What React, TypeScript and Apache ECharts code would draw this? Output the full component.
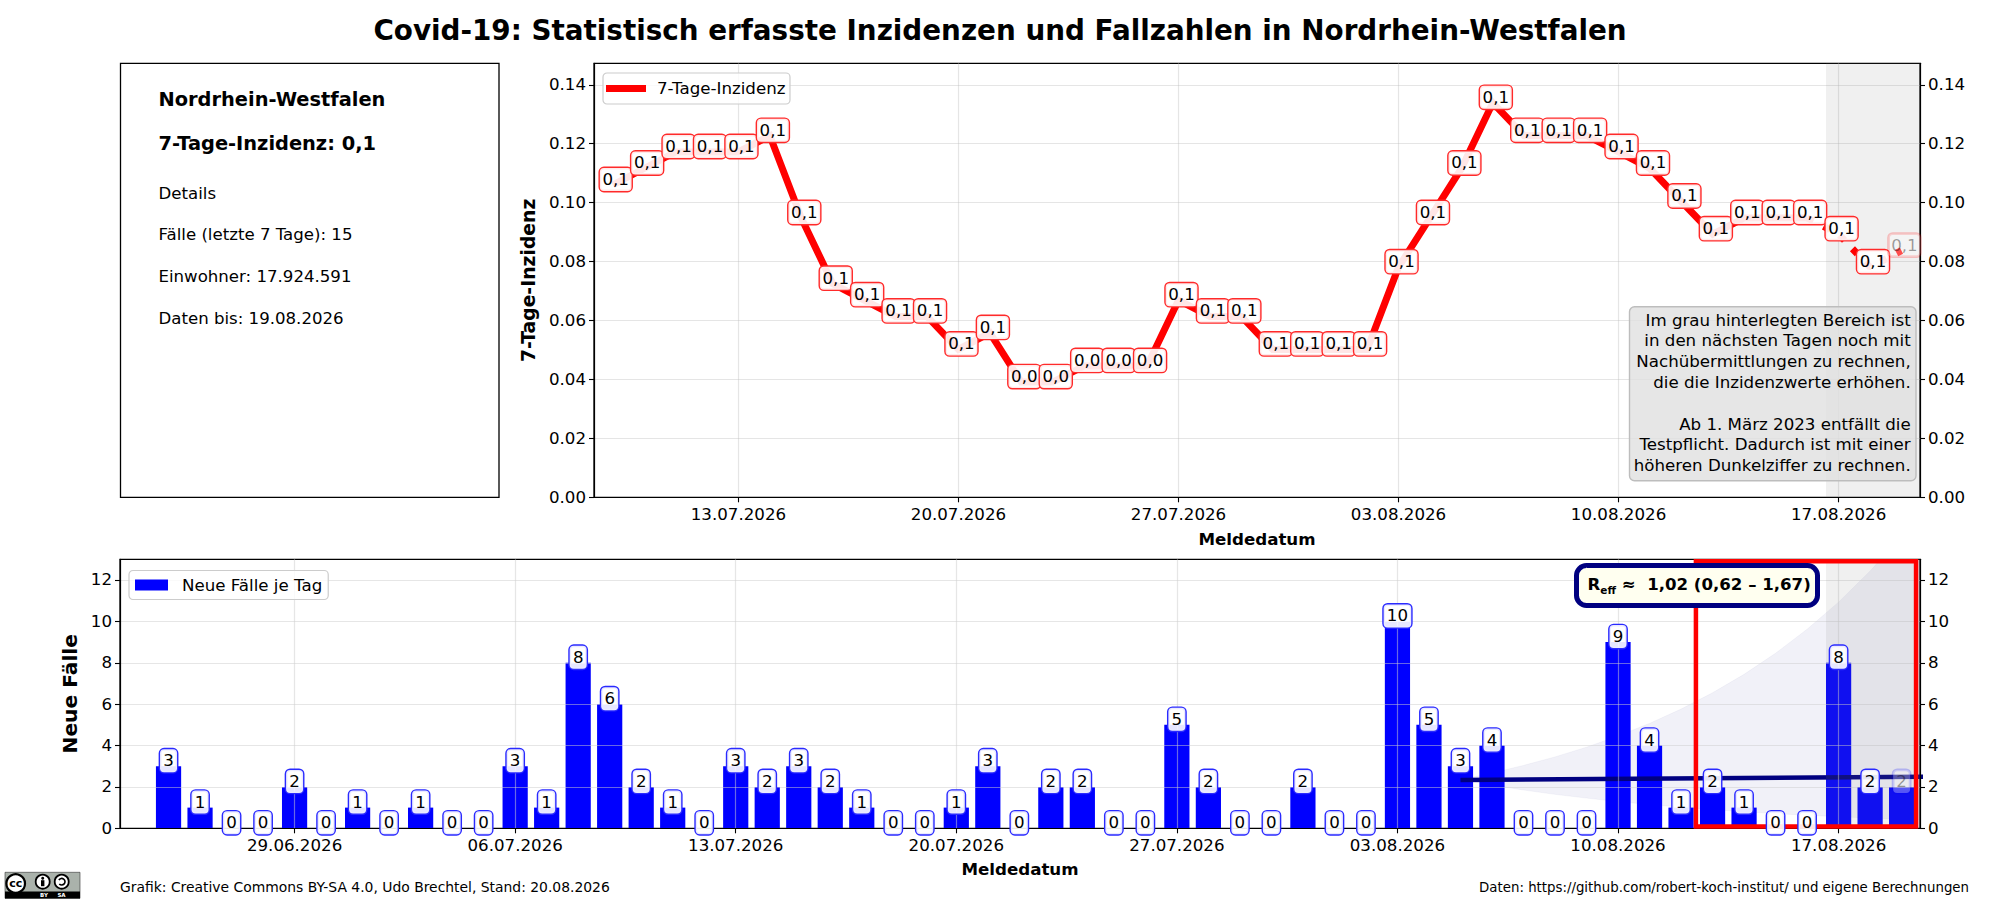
import React, { useEffect, useRef } from "react";
import * as echarts from "echarts";

const FONT = "DejaVu Sans";

const titleText = "Covid-19: Statistisch erfasste Inzidenzen und Fallzahlen in Nordrhein-Westfalen";
const incidenceName = "7-Tage-Inzidenz";
const casesName = "Neue Fälle je Tag";

const caseDates = [
  "2026-06-25","2026-06-26","2026-06-27","2026-06-28","2026-06-29","2026-06-30",
  "2026-07-01","2026-07-02","2026-07-03","2026-07-04","2026-07-05","2026-07-06","2026-07-07","2026-07-08","2026-07-09","2026-07-10",
  "2026-07-11","2026-07-12","2026-07-13","2026-07-14","2026-07-15","2026-07-16","2026-07-17","2026-07-18","2026-07-19","2026-07-20",
  "2026-07-21","2026-07-22","2026-07-23","2026-07-24","2026-07-25","2026-07-26","2026-07-27","2026-07-28","2026-07-29","2026-07-30","2026-07-31",
  "2026-08-01","2026-08-02","2026-08-03","2026-08-04","2026-08-05","2026-08-06","2026-08-07","2026-08-08","2026-08-09","2026-08-10",
  "2026-08-11","2026-08-12","2026-08-13","2026-08-14","2026-08-15","2026-08-16","2026-08-17","2026-08-18","2026-08-19",
];
const caseValues = [
  3,1,0,0,2,0,
  1,0,1,0,0,3,1,8,6,2,
  1,0,3,2,3,2,1,0,0,1,
  3,0,2,2,0,0,5,2,0,0,2,
  0,0,10,5,3,4,0,0,0,9,
  4,1,2,1,0,0,8,2,2,
];

const incidenceDates = [
  "2026-07-09","2026-07-10",
  "2026-07-11","2026-07-12","2026-07-13","2026-07-14","2026-07-15","2026-07-16","2026-07-17","2026-07-18","2026-07-19","2026-07-20",
  "2026-07-21","2026-07-22","2026-07-23","2026-07-24","2026-07-25","2026-07-26","2026-07-27","2026-07-28","2026-07-29","2026-07-30","2026-07-31",
  "2026-08-01","2026-08-02","2026-08-03","2026-08-04","2026-08-05","2026-08-06","2026-08-07","2026-08-08","2026-08-09","2026-08-10",
  "2026-08-11","2026-08-12","2026-08-13","2026-08-14","2026-08-15","2026-08-16","2026-08-17","2026-08-18","2026-08-19",
];
const incidenceValues = [
  0.106,0.1116,
  0.1172,0.1172,0.1172,0.1227,0.0948,0.0725,0.0669,0.0614,0.0614,0.0502,
  0.0558,0.0391,0.0391,0.0446,0.0446,0.0446,0.0669,0.0614,0.0614,0.0502,0.0502,
  0.0502,0.0502,0.0781,0.0948,0.1116,0.1339,0.1227,0.1227,0.1227,0.1172,
  0.1116,0.1004,0.0893,0.0948,0.0948,0.0948,0.0893,0.0781,0.0837,
];
const dottedFromDate = "2026-08-16";

const rDates = [
  "2026-08-05","2026-08-06","2026-08-07","2026-08-08","2026-08-09","2026-08-10","2026-08-11","2026-08-12",
  "2026-08-13","2026-08-14","2026-08-15","2026-08-16","2026-08-17","2026-08-18","2026-08-19","2026-08-20",
];
const rLower = [2.35,2.09,1.85,1.64,1.46,1.29,1.15,1.02,0.9,0.8,0.71,0.63,0.56,0.5,0.44,0.39];
const rUpper = [2.35,2.67,3.04,3.45,3.92,4.46,5.07,5.76,6.55,7.44,8.46,9.62,10.93,12.43,14.13,16.06];
const rLineDates = ["2026-08-05", "2026-08-20"];
const rLineValues = [2.33, 2.5];

const topTickDates = ["2026-07-13","2026-07-20","2026-07-27","2026-08-03","2026-08-10","2026-08-17"];
const bottomTickDates = ["2026-06-29","2026-07-06","2026-07-13","2026-07-20","2026-07-27","2026-08-03","2026-08-10","2026-08-17"];
const incidenceTicks = [0,0.02,0.04,0.06,0.08,0.1,0.12,0.14];
const caseTicks = [0,2,4,6,8,10,12];

const topRange = ["2026-07-08T09:43:00", "2026-08-19T14:10:00"];
const bottomRange = ["2026-06-23T11:02:00", "2026-08-19T14:00:00"];
const pendingStart = "2026-08-16T14:24:00";
const redBoxRange = ["2026-08-12T11:20:00", "2026-08-19T11:00:00"];

const infoLines = ["Details", "Fälle (letzte 7 Tage): 15", "Einwohner: 17.924.591", "Daten bis: 19.08.2026"];
const noteLines = [
  "Im grau hinterlegten Bereich ist",
  "in den nächsten Tagen noch mit",
  "Nachübermittlungen zu rechnen,",
  "die die Inzidenzwerte erhöhen.",
  "",
  "Ab 1. März 2023 entfällt die",
  "Testpflicht. Dadurch ist mit einer",
  "höheren Dunkelziffer zu rechnen.",
];

const ts = (s: string) => new Date(s.length > 10 ? s : s + "T00:00:00").getTime();
const fmtDate = (v: number) => {
  const d = new Date(v);
  const p = (n: number) => String(n).padStart(2, "0");
  return `${p(d.getDate())}.${p(d.getMonth() + 1)}.${d.getFullYear()}`;
};

function buildOption() {
  const lastInc = incidenceValues.length - 1;
  const lastCase = caseValues.length - 1;
  const splitAt = incidenceDates.indexOf(dottedFromDate);
  const incPoints = incidenceDates.map((d, i) => [ts(d), incidenceValues[i]]);

  const incLabels = incidenceValues.map((v, i) => ({
    value: [ts(incidenceDates[i]), v],
    label: i === lastInc ? {
      color: "rgba(0,0,0,0.38)",
      backgroundColor: "rgba(255,255,255,0.3)",
      borderColor: "rgba(255,0,0,0.22)",
    } : undefined,
  }));
  const caseLabels = caseValues.map((v, i) => ({
    value: [ts(caseDates[i]), v],
    label: i === lastCase ? {
      color: "rgba(0,0,0,0.38)",
      backgroundColor: "rgba(255,255,255,0.3)",
      borderColor: "rgba(0,0,255,0.22)",
    } : undefined,
  }));

  const axisCommon = {
    axisLine: { show: true, onZero: false, lineStyle: { color: "#000", width: 1.2 } },
    axisTick: { show: true, length: 5, lineStyle: { color: "#000", width: 1.1 } },
    nameTextStyle: { fontFamily: FONT, fontWeight: "bold" as const, color: "#000" },
  };
  const xLabel = (ticks: number[]) => ({
    fontFamily: FONT, fontSize: 16.67, color: "#000", margin: 9, hideOverlap: false,
    customValues: ticks, formatter: (v: number) => fmtDate(v),
  });
  const yLabel = (ticks: number[], digits: number) => ({
    fontFamily: FONT, fontSize: 16.67, color: "#000", margin: 8,
    customValues: ticks, formatter: (v: number) => v.toFixed(digits),
  });

  const topTicks = topTickDates.map(ts);
  const bottomTicks = bottomTickDates.map(ts);

  const gridLine = { show: true, lineStyle: { color: "rgba(190,190,190,0.4)", width: 1.2 } };
  const gridLineOver = { show: true, lineStyle: { color: "rgba(205,205,205,0.5)", width: 1.2 } };

  const pill = (color: string, pad: number[]) => ({
    show: true,
    position: "inside",
    fontFamily: FONT,
    fontSize: 16.67,
    lineHeight: 17,
    color: "#000",
    backgroundColor: "rgba(255,255,255,0.9)",
    borderColor: color,
    borderWidth: 1.4,
    borderRadius: 4,
    padding: pad,
  });

  const note = noteLines.map((t, i) => ({
    type: "text", z: 30, x: 1910.7, y: 320 + i * 20.8,
    style: { text: t, fontFamily: FONT, fontSize: 16.67, fill: "#000", align: "right", verticalAlign: "middle" },
  }));
  const info = infoLines.map((t, i) => ({
    type: "text", z: 30, x: 158.5, y: 193 + i * 41.7,
    style: { text: t, fontFamily: FONT, fontSize: 16.6, fill: "#000", verticalAlign: "middle" },
  }));

  const fanRows = rDates.map((d, i) => [ts(d), rLower[i], rUpper[i]]);

  return {
    animation: false,
    backgroundColor: "#fff",
    textStyle: { fontFamily: FONT },
    title: {
      text: titleText, left: "center", top: 11,
      textStyle: { fontFamily: FONT, fontWeight: "bold", fontSize: 27.8, color: "#000" },
    },
    legend: [
      {
        data: [incidenceName], left: 603, top: 73, icon: "rect", itemWidth: 40, itemHeight: 7,
        padding: [7, 4.5, 7, 3], selectedMode: false, z: 10,
        backgroundColor: "rgba(255,255,255,0.8)", borderColor: "#ccc", borderWidth: 1.2, borderRadius: 4,
        textStyle: { fontFamily: FONT, fontSize: 16.67, color: "#000", padding: [0, 0, 0, 6] },
      },
      {
        data: [casesName], left: 129, top: 570.5, icon: "rect", itemWidth: 33, itemHeight: 11,
        padding: [6, 6, 6, 6], selectedMode: false, z: 10,
        backgroundColor: "rgba(255,255,255,0.8)", borderColor: "#ccc", borderWidth: 1.2, borderRadius: 4,
        textStyle: { fontFamily: FONT, fontSize: 16.67, color: "#000", padding: [0, 0, 0, 9] },
      },
    ],
    grid: [
      { left: 594, top: 63.3, width: 1326, height: 434, show: true, borderColor: "#000", borderWidth: 1.3, backgroundColor: "transparent" },
      { left: 120, top: 559.3, width: 1800, height: 269, show: true, borderColor: "#000", borderWidth: 1.3, backgroundColor: "transparent" },
    ],
    xAxis: [
      {
        ...axisCommon, type: "value", gridIndex: 0, min: ts(topRange[0]), max: ts(topRange[1]),
        name: "Meldedatum", nameLocation: "middle", nameGap: 33.6,
        nameTextStyle: { ...axisCommon.nameTextStyle, fontSize: 16.67 },
        axisLabel: xLabel(topTicks),
        axisTick: { ...axisCommon.axisTick, customValues: topTicks },
        splitLine: gridLine,
      },
      {
        ...axisCommon, type: "value", gridIndex: 1, z: 4, min: ts(bottomRange[0]), max: ts(bottomRange[1]),
        name: "Meldedatum", nameLocation: "middle", nameGap: 32.5,
        nameTextStyle: { ...axisCommon.nameTextStyle, fontSize: 16.67 },
        axisLabel: xLabel(bottomTicks),
        axisTick: { ...axisCommon.axisTick, customValues: bottomTicks },
        splitLine: gridLineOver,
      },
    ],
    yAxis: [
      {
        ...axisCommon, type: "value", gridIndex: 0, position: "left", min: 0, max: 0.1473,
        name: "7-Tage-Inzidenz", nameLocation: "middle", nameGap: 49, nameRotate: 90,
        nameTextStyle: { ...axisCommon.nameTextStyle, fontSize: 18.8 },
        axisLabel: yLabel(incidenceTicks, 2),
        axisTick: { ...axisCommon.axisTick, customValues: incidenceTicks },
        splitLine: gridLine,
      },
      {
        ...axisCommon, type: "value", gridIndex: 0, position: "right", min: 0, max: 0.1473,
        axisLabel: yLabel(incidenceTicks, 2),
        axisTick: { ...axisCommon.axisTick, customValues: incidenceTicks },
        splitLine: { show: false },
      },
      {
        ...axisCommon, type: "value", gridIndex: 1, position: "left", z: 4, min: 0, max: 13,
        name: "Neue Fälle", nameLocation: "middle", nameGap: 38.7, nameRotate: 90,
        nameTextStyle: { ...axisCommon.nameTextStyle, fontSize: 20.2 },
        axisLabel: yLabel(caseTicks, 0),
        axisTick: { ...axisCommon.axisTick, customValues: caseTicks },
        splitLine: gridLineOver,
      },
      {
        ...axisCommon, type: "value", gridIndex: 1, position: "right", z: 4, min: 0, max: 13,
        axisLabel: yLabel(caseTicks, 0),
        axisTick: { ...axisCommon.axisTick, customValues: caseTicks },
        splitLine: { show: false },
      },
    ],
    series: [
      {
        name: incidenceName, type: "line", xAxisIndex: 0, yAxisIndex: 0, z: 3,
        data: incPoints.slice(0, splitAt + 1),
        color: "#ff0000", showSymbol: false, symbol: "none",
        lineStyle: { color: "#ff0000", width: 7, join: "miter" },
        markArea: {
          silent: true, z: 1,
          itemStyle: { color: "rgba(128,128,128,0.12)" },
          data: [[{ xAxis: ts(pendingStart), yAxis: 0 }, { xAxis: ts(topRange[1]), yAxis: 0.1473 }]],
        },
      },
      {
        name: "Inzidenz vorläufig", type: "line", xAxisIndex: 0, yAxisIndex: 0, z: 3,
        data: incPoints.slice(splitAt),
        color: "#ff0000", showSymbol: false, symbol: "none",
        lineStyle: { color: "#ff0000", width: 7, type: [7, 11.5], cap: "butt" },
      },
      {
        name: "Inzidenzwert", type: "scatter", xAxisIndex: 0, yAxisIndex: 0, z: 6,
        symbol: "circle", symbolSize: 0.01, silent: true,
        itemStyle: { color: "rgba(0,0,0,0)", opacity: 1 },
        label: {
          ...pill("#ff2a2a", [3, 2.6]),
          offset: [3, -5.5],
          formatter: (p: any) => p.value[1].toFixed(1).replace(".", ","),
        },
        data: incLabels,
      },
      {
        name: "R-Spanne", type: "custom", xAxisIndex: 1, yAxisIndex: 2, z: 1, clip: true, silent: true,
        encode: { x: 0, y: [1, 2] },
        data: fanRows,
        renderItem: (params: any, api: any) => {
          if (params.dataIndexInside !== 0) return null;
          const upper = fanRows.map((r) => api.coord([r[0], r[2]]));
          const lower = fanRows.map((r) => api.coord([r[0], r[1]])).reverse();
          return {
            type: "polygon",
            shape: { points: upper.concat(lower) },
            style: { fill: "rgba(0,0,128,0.055)", stroke: "rgba(0,0,128,0.04)", lineWidth: 1 },
          };
        },
      },
      {
        name: casesName, type: "bar", xAxisIndex: 1, yAxisIndex: 2, z: 2, barWidth: "80%",
        color: "#0000ff", itemStyle: { color: "#0000ff" },
        data: caseDates.map((d, i) => [ts(d), caseValues[i]]),
      },
      {
        name: "R-Trend", type: "line", xAxisIndex: 1, yAxisIndex: 2, z: 3,
        showSymbol: false, symbol: "none", lineStyle: { color: "#000080", width: 4.5 },
        data: rLineDates.map((d, i) => [ts(d), rLineValues[i]]),
        markArea: {
          silent: true, z: 4,
          itemStyle: { color: "rgba(128,128,128,0.12)" },
          data: [[{ xAxis: ts(pendingStart), yAxis: 0 }, { xAxis: ts(bottomRange[1]), yAxis: 13 }]],
        },
      },
      {
        name: "Rahmen", type: "line", xAxisIndex: 1, yAxisIndex: 2, z: 5, data: [],
        showSymbol: false,
        markArea: {
          silent: true, z: 5,
          itemStyle: { color: "rgba(0,0,0,0)", borderColor: "#ff0000", borderWidth: 4.5 },
          data: [[{ xAxis: ts(redBoxRange[0]), yAxis: 12.9 }, { xAxis: ts(redBoxRange[1]), yAxis: 0.09 }]],
        },
      },
      {
        name: "Fallwert", type: "scatter", xAxisIndex: 1, yAxisIndex: 2, z: 6,
        symbol: "circle", symbolSize: 0.01, silent: true,
        itemStyle: { color: "rgba(0,0,0,0)", opacity: 1 },
        label: {
          ...pill("#2a2aff", [3, 3.2]),
          offset: [0, -5.5],
          formatter: (p: any) => String(p.value[1]),
        },
        data: caseLabels,
      },
    ],
    graphic: [
      { type: "rect", z: 1, shape: { x: 120.5, y: 63.3, width: 378.5, height: 434 }, style: { fill: "#fff", stroke: "#000", lineWidth: 1.3 } },
      { type: "text", z: 30, x: 158.5, y: 99, style: { text: "Nordrhein-Westfalen", fontFamily: FONT, fontWeight: "bold", fontSize: 19.4, fill: "#000", verticalAlign: "middle" } },
      { type: "text", z: 30, x: 158.5, y: 143, style: { text: "7-Tage-Inzidenz: 0,1", fontFamily: FONT, fontWeight: "bold", fontSize: 19.4, fill: "#000", verticalAlign: "middle" } },
      ...info,
      { type: "rect", z: 20, shape: { x: 1629.5, y: 306.7, width: 286.5, height: 174, r: 5 }, style: { fill: "rgba(224,224,224,0.8)", stroke: "#bdbdbd", lineWidth: 1.4 } },
      ...note,
      { type: "rect", z: 20, shape: { x: 1576.5, y: 565.5, width: 241, height: 40, r: 10 }, style: { fill: "#fffff0", stroke: "#000080", lineWidth: 5 } },
      {
        type: "text", z: 30, x: 1587.5, y: 584,
        style: {
          text: "{b|R}{s|eff}{b| ≈  1,02 (0,62 – 1,67)}",
          fontFamily: FONT, fill: "#000", verticalAlign: "middle",
          rich: {
            b: { fontFamily: FONT, fontWeight: "bold", fontSize: 16.6, lineHeight: 22, fill: "#000", color: "#000" },
            s: { fontFamily: FONT, fontWeight: "bold", fontSize: 10.5, lineHeight: 13, verticalAlign: "bottom", fill: "#000", color: "#000" },
          },
        },
      },
      { type: "text", z: 30, x: 120, y: 887, style: { text: "Grafik: Creative Commons BY-SA 4.0, Udo Brechtel, Stand: 20.08.2026", fontFamily: FONT, fontSize: 13.9, fill: "#000", verticalAlign: "middle" } },
      { type: "text", z: 30, x: 1969, y: 887, style: { text: "Daten: https://github.com/robert-koch-institut/ und eigene Berechnungen", fontFamily: FONT, fontSize: 13.34, fill: "#000", align: "right", verticalAlign: "middle" } },
      // Creative-Commons badge
      { type: "rect", z: 30, shape: { x: 5, y: 872.3, width: 75, height: 26 }, style: { fill: "#aab2ab", stroke: "#333", lineWidth: 0.6 } },
      { type: "rect", z: 31, shape: { x: 5, y: 891.5, width: 75, height: 7 }, style: { fill: "#000" } },
      { type: "circle", z: 32, shape: { cx: 15.7, cy: 883.5, r: 9.3 }, style: { fill: "#fff", stroke: "#000", lineWidth: 2.2 } },
      { type: "text", z: 33, x: 15.7, y: 883.5, style: { text: "cc", fontFamily: FONT, fontWeight: "bold", fontSize: 11, fill: "#000", align: "center", verticalAlign: "middle" } },
      { type: "circle", z: 32, shape: { cx: 42.7, cy: 881.7, r: 7 }, style: { fill: "#fff", stroke: "#000", lineWidth: 1.8 } },
      { type: "circle", z: 33, shape: { cx: 42.7, cy: 878.2, r: 1.5 }, style: { fill: "#000" } },
      { type: "rect", z: 33, shape: { x: 41, y: 880.2, width: 3.4, height: 6 }, style: { fill: "#000" } },
      { type: "circle", z: 32, shape: { cx: 61.7, cy: 881.7, r: 7 }, style: { fill: "#fff", stroke: "#000", lineWidth: 1.8 } },
      { type: "arc", z: 33, shape: { cx: 61.7, cy: 881.7, r: 3.3, startAngle: -2.6, endAngle: 2.4 }, style: { fill: "none", stroke: "#000", lineWidth: 1.6 } },
      { type: "text", z: 33, x: 44, y: 895.3, style: { text: "BY", fontFamily: FONT, fontWeight: "bold", fontSize: 5.5, fill: "#fff", align: "center", verticalAlign: "middle" } },
      { type: "text", z: 33, x: 61.5, y: 895.3, style: { text: "SA", fontFamily: FONT, fontWeight: "bold", fontSize: 5.5, fill: "#fff", align: "center", verticalAlign: "middle" } },
    ],
  };
}

export default function App() {
  const ref = useRef<HTMLDivElement>(null);
  useEffect(() => {
    const chart = echarts.init(ref.current as HTMLDivElement, undefined, { renderer: "svg" });
    chart.setOption(buildOption() as any);
    return () => chart.dispose();
  }, []);
  return <div ref={ref} style={{ position: "fixed", left: 0, top: 0, width: 2000, height: 900 }} />;
}
